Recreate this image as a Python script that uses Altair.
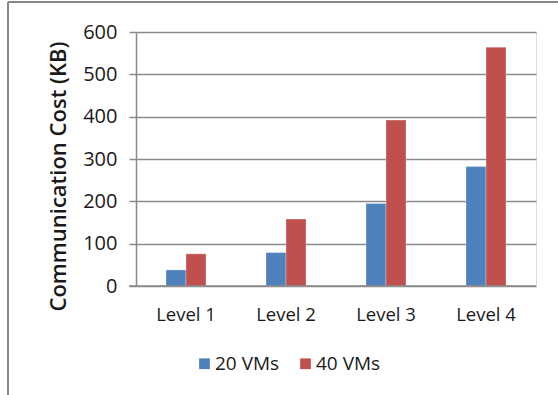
import altair as alt
import pandas as pd

# Communication cost per hierarchy level, for two cluster sizes
levels = ["Level 1", "Level 2", "Level 3", "Level 4"]
vms_20 = [38, 79, 195, 282]
vms_40 = [76, 158, 392, 564]
series = ["20 VMs", "40 VMs"]
colors = ["#4F81BD", "#C0504D"]
y_ticks = [0, 100, 200, 300, 400, 500, 600]

rows = []
for lvl, a, b in zip(levels, vms_20, vms_40):
    rows.append({"level": lvl, "series": series[0], "cost": a})
    rows.append({"level": lvl, "series": series[1], "cost": b})
df = pd.DataFrame(rows)

FONT = "Open Sans"
GRID = "#8a8a8a"
TEXT = "#1a1a1a"

bars = alt.Chart(df).mark_bar(stroke="white", strokeWidth=0.6, strokeOpacity=0.5).encode(
    x=alt.X(
        "level:N",
        sort=levels,
        scale=alt.Scale(paddingInner=0.6, paddingOuter=0.3),
        axis=alt.Axis(
            title=None, labelAngle=0, labelFontSize=18.5, labelColor=TEXT,
            labelFont=FONT, labelPadding=19, ticks=False, domain=False,
        ),
    ),
    xOffset=alt.XOffset("series:N", sort=series),
    y=alt.Y(
        "cost:Q",
        scale=alt.Scale(domain=[0, 600], nice=False),
        axis=alt.Axis(
            title="Communication Cost (KB)", titleFont=FONT, titleFontSize=22,
            titleFontWeight=600, titleColor=TEXT, titlePadding=12, titleY=144,
            values=y_ticks, labelFont=FONT, labelFontSize=20, labelColor=TEXT,
            labelPadding=12, tickSize=7, tickColor=GRID, tickWidth=1.5,
            domainColor=GRID, domainWidth=1.5, grid=True, gridColor=GRID,
            gridWidth=1.5,
        ),
    ),
    color=alt.Color(
        "series:N",
        sort=series,
        scale=alt.Scale(domain=series, range=colors),
        legend=alt.Legend(
            title=None, orient="none", direction="horizontal",
            legendX=59, legendY=322, symbolType="square", symbolSize=115,
            symbolStrokeWidth=0, labelFont=FONT, labelFontSize=19,
            labelColor=TEXT, labelOffset=1, columnPadding=16,
        ),
    ),
)

# baseline along the x axis
baseline = alt.Chart(pd.DataFrame({"y": [0]})).mark_rule(
    color=GRID, strokeWidth=1.5
).encode(y="y:Q", x=alt.value(-7), x2=alt.value(400))

# outer frame of the chart area
frame_top = alt.Chart(pd.DataFrame({"v": [0]})).mark_rule(
    color="#878787", strokeWidth=2
).encode(x=alt.value(-128), x2=alt.value(430), y=alt.value(-30))
frame_left = alt.Chart(pd.DataFrame({"v": [0]})).mark_rule(
    color="#878787", strokeWidth=2
).encode(x=alt.value(-128), y=alt.value(-30), y2=alt.value(370))

chart = alt.layer(bars, baseline, frame_top, frame_left).properties(
    width=400,
    height=254,
    padding={"left": 136, "top": 32, "right": 22, "bottom": 109},
    autosize=alt.AutoSizeParams(type="none"),
).configure_view(stroke=None).configure(background="white")

chart.save("out.html", embed_options={"renderer": "svg", "actions": False})
